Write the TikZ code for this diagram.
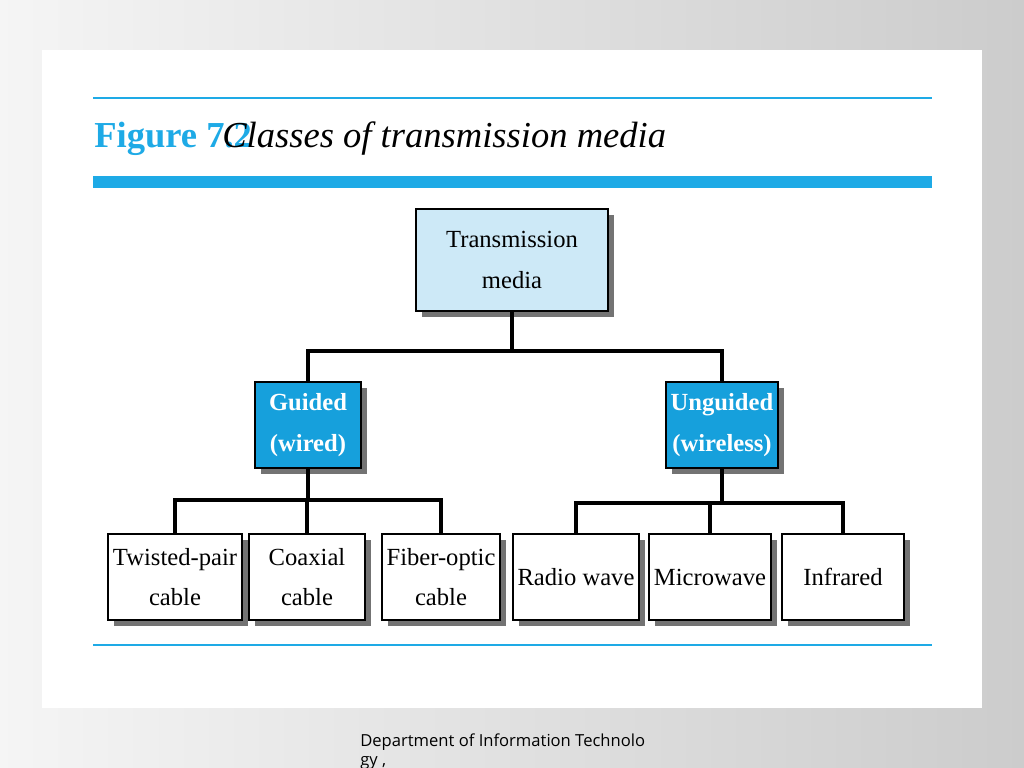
\documentclass[tikz,border=0pt]{standalone}
\usepackage{fontspec}
\setmainfont{Liberation Serif}
\newfontfamily\footfont{Open Sans}
\usetikzlibrary{shadows}
\definecolor{mediaBlue}{RGB}{205,233,247}
\definecolor{classBlue}{RGB}{22,160,220}
\definecolor{ruleBlue}{RGB}{30,170,230}
\tikzset{
  box/.style={draw,line width=1.3pt,minimum width=#1,minimum height=2.15cm,align=center,
    font=\fontsize{17.5}{29}\selectfont,fill=white,
    drop shadow={shadow xshift=1.5mm,shadow yshift=-1.5mm,fill=black!55,opacity=1}},
  box/.default=2.9cm,
  link/.style={line width=2.4pt}
}
\begin{document}
\begin{tikzpicture}[x=0.025cm,y=-0.025cm]
\shade[left color=gray!8,right color=gray!40] (0,0) rectangle (1024,768);
\useasboundingbox (0,0) rectangle (1024,768);
\fill[white] (42,50) rectangle (982,708);

% rules and title
\draw[ruleBlue,line width=1.5pt] (93,98) -- (932,98);
\fill[ruleBlue] (93,176) rectangle (932,188);
\draw[ruleBlue,line width=1.5pt] (93,645) -- (932,645);
\node[anchor=west,inner sep=0pt,text=ruleBlue,font=\fontsize{26}{28}\selectfont\bfseries] (fig) at (94,139) {Figure 7.2};
\node[anchor=west,inner sep=0pt,font=\fontsize{26}{28}\selectfont\itshape] (cap) at (222,139) {Classes of transmission media};

% nodes
\node[box=4.8cm,minimum height=2.55cm,fill=mediaBlue] (media) at (512,260) {Transmission\\media};
\node[box=2.65cm,fill=classBlue,text=white,font=\fontsize{17.5}{29}\selectfont\bfseries] (guided) at (308,425) {Guided\\(wired)};
\node[box=2.65cm,fill=classBlue,text=white,font=\fontsize{17.5}{29}\selectfont\bfseries] (unguided) at (722,425) {Unguided\\(wireless)};
\node[box] (twisted) at (175,577) {Twisted-pair\\cable};
\node[box] (coax) at (307,577) {Coaxial\\cable};
\node[box] (fiber) at (441,577) {Fiber-optic\\cable};
\node[box=3.05cm] (radio) at (576,577) {Radio wave};
\node[box=3.05cm] (micro) at (710,577) {Microwave};
\node[box=3.05cm] (infra) at (843,577) {Infrared};

% connectors
\coordinate (top) at (512,351);
\coordinate (gbus) at (308,500);
\coordinate (ubus) at (722,503);
\draw[link] (media) -- (top);
\draw[link] (guided.north) |- (top) -| (unguided.north);
\draw[link] (guided) -- (gbus);
\draw[link] (twisted.north) |- (gbus) -| (fiber.north);
\draw[link] (coax.north) -- (coax.north |- gbus);
\draw[link] (unguided) -- (ubus);
\draw[link] (radio.north) |- (ubus) -| (infra.north);
\draw[link] (micro.north) -- (micro.north |- ubus);

% footer
\node[anchor=north west,align=left,inner sep=0pt,font=\footfont\fontsize{11.8}{13}\selectfont] (foot) at (360,734) {Department of Information Technolo\\gy ,};
\end{tikzpicture}
\end{document}
